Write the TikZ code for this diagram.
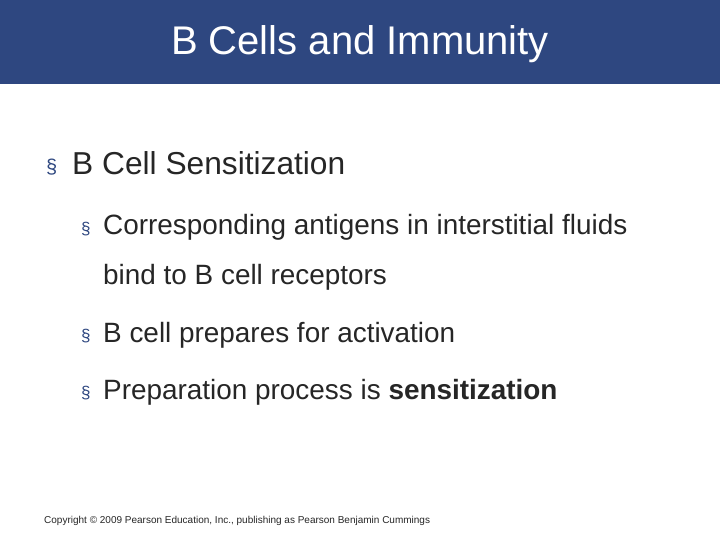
\documentclass[tikz,border=0pt]{standalone}
\usepackage{fontspec}
\setmainfont{Liberation Sans}
\definecolor{hdr}{HTML}{2E4780}
\definecolor{txt}{HTML}{262626}
\begin{document}
\begin{tikzpicture}[x=1pt,y=-1pt,
  lone/.style={anchor=base west,inner sep=0pt,text=txt,font=\fontsize{31.7}{36}\selectfont},
  ltwo/.style={anchor=base west,inner sep=0pt,text=txt,font=\fontsize{27.9}{32}\selectfont},
  bul/.style={anchor=base west,inner sep=0pt,text=hdr}]
\useasboundingbox (0,0) rectangle (720,540);
\fill[white] (0,0) rectangle (720,540);
\fill[hdr] (0,0) rectangle (720,84);
\node[text=white,font=\fontsize{40}{46}\selectfont] (title) at (360,44) {B Cells and Immunity};
\node[bul,font=\fontsize{20}{24}\selectfont] (b1) at (46,174) {§};
\node[lone] (t1) at (72,175) {B Cell Sensitization};
\node[bul,font=\fontsize{17}{20}\selectfont] (b2) at (81,234) {§};
\node[ltwo] (t2) at (103,235) {Corresponding antigens in interstitial fluids};
\node[ltwo] (t3) at (103,284) {bind to B cell receptors};
\node[bul,font=\fontsize{17}{20}\selectfont] (b4) at (81,341) {§};
\node[ltwo] (t4) at (103,342) {B cell prepares for activation};
\node[bul,font=\fontsize{17}{20}\selectfont] (b5) at (81,398) {§};
\node[ltwo] (t5) at (103,399) {Preparation process is \textbf{sensitization}};
\node[anchor=base west,inner sep=0pt,text=txt,font=\fontsize{10}{12}\selectfont] (copy) at (44,523) {Copyright © 2009 Pearson Education, Inc., publishing as Pearson Benjamin Cummings};
\end{tikzpicture}
\end{document}
